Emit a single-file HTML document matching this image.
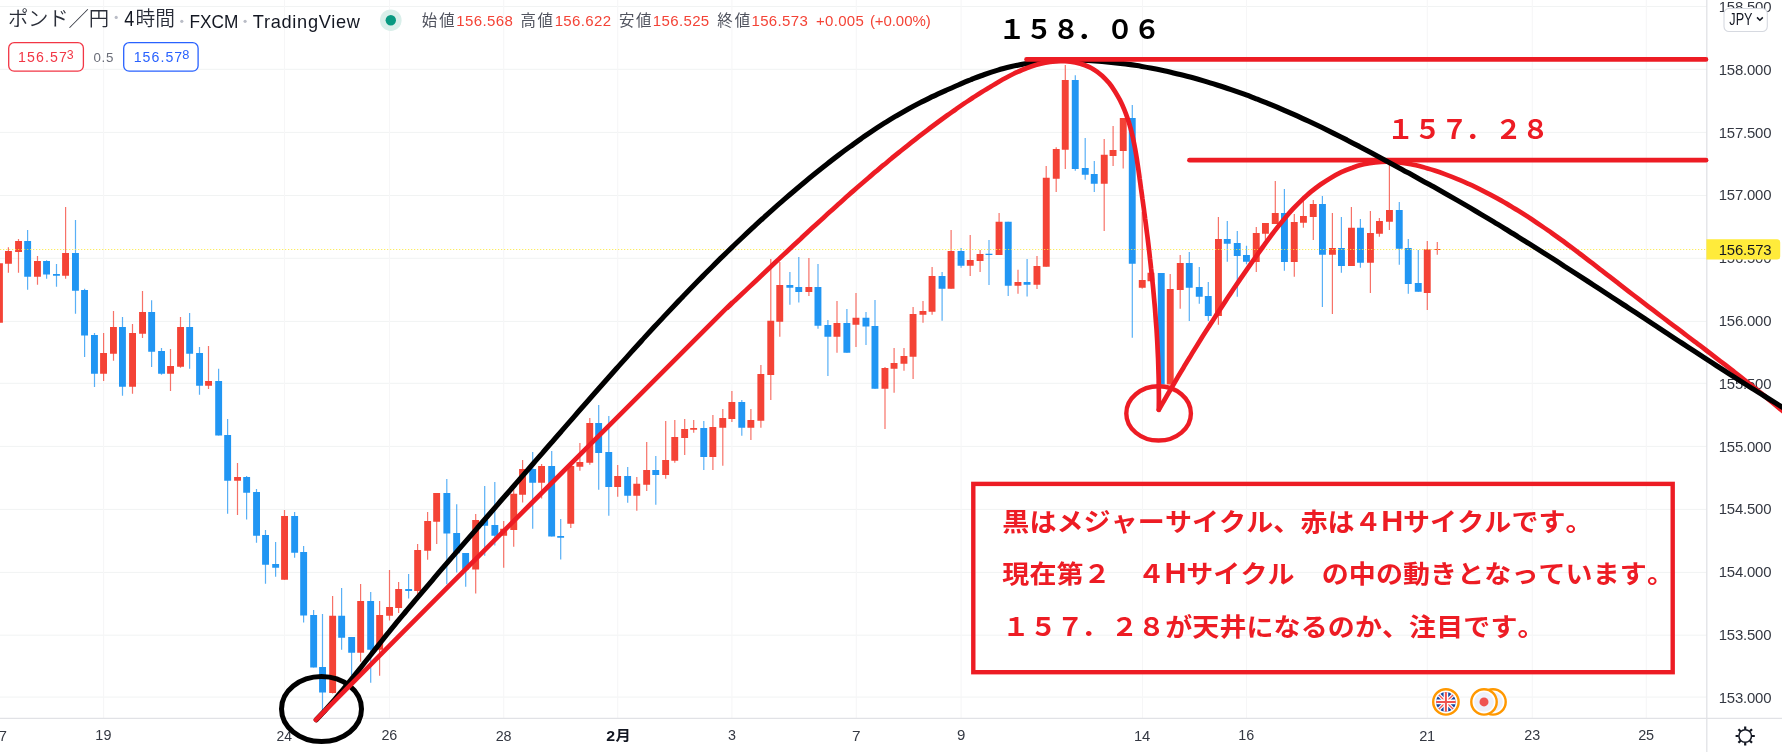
<!DOCTYPE html>
<html lang="ja"><head><meta charset="utf-8"><title>GBPJPY 4H</title>
<style>
html,body{margin:0;padding:0;background:#fff;}
body{width:1782px;height:752px;position:relative;overflow:hidden;font-family:"Liberation Sans","Noto Sans CJK JP",sans-serif;}
svg{position:absolute;left:0;top:0;will-change:transform;}
svg text{white-space:pre;}
</style></head><body>
<svg width="1782" height="752" viewBox="0 0 1782 752">
<g id="chart">
<path d="M0 6.5H1706.8M0 69.3H1706.8M0 132.4H1706.8M0 195.5H1706.8M0 258.3H1706.8M0 321.4H1706.8M0 383.3H1706.8M0 446.4H1706.8M0 509.4H1706.8M0 572.4H1706.8M0 635.2H1706.8M0 697.1H1706.8" stroke="#f1f3f3" stroke-width="1.0" fill="none"/>
<path d="M103.6 0V718.4M284.5 0V718.4M389.5 0V718.4M503.7 0V718.4M617.7 0V718.4M731.9 0V718.4M856.3 0V718.4M961.1 0V718.4M1142.5 0V718.4M1246.5 0V718.4M1427.3 0V718.4M1532.3 0V718.4M1646.3 0V718.4" stroke="#f6f6f7" stroke-width="1.1" fill="none"/>
<path d="M0 718.4H1782 M1706.8 0V752" stroke="#e1e2e6" stroke-width="1.3" fill="none"/>
<path d="M-0.5 263.2V322.7M8.4 247.2V272.8M18.5 239.1V272.8M37.5 256.1V284.7M65.6 207.1V278.7M103.6 333.0V381.0M113.5 311.1V360.8M132.5 324.0V393.8M142.5 291.0V337.9M170.5 349.0V390.9M180.5 317.0V367.8M208.5 346.0V388.9M237.5 463.0V514.9M284.5 510.0V579.7M332.6 596.1V693.5M360.6 584.0V661.8M379.6 601.1V675.7M389.5 570.1V620.5M398.6 582.1V612.9M417.6 544.0V595.0M427.6 512.0V559.8M436.7 493.0V544.0M475.7 514.0V593.6M503.7 521.0V567.8M513.7 489.2V546.7M522.6 460.1V502.6M541.6 464.0V498.6M570.8 466.0V527.9M579.9 442.9V470.7M589.8 418.0V464.8M617.7 465.0V496.8M636.8 476.9V510.8M646.7 442.1V490.9M665.7 421.0V478.8M674.8 420.0V462.8M684.7 419.0V454.9M693.7 420.0V432.8M712.9 415.0V469.9M722.8 409.1V465.8M731.9 391.0V421.9M750.9 409.0V439.9M760.9 365.0V427.7M770.8 258.9V400.0M779.8 262.0V336.8M808.9 258.0V295.9M837.0 301.0V352.8M856.0 292.9V346.9M885.0 367.0V428.9M894.1 348.1V392.7M904.0 348.1V370.8M913.1 306.9V378.9M923.0 301.0V322.8M932.1 267.0V314.8M951.1 229.9V288.7M970.2 235.0V275.9M980.1 250.0V272.0M999.1 212.9V255.0M1018.0 269.8V293.8M1037.0 255.9V288.9M1046.2 166.0V266.8M1056.2 147.2V191.9M1065.3 65.0V168.9M1104.2 139.1V230.9M1113.1 126.0V165.9M1123.2 118.1V168.6M1142.2 212.1V288.8M1151.0 272.8V281.2M1170.2 274.0V384.6M1180.2 255.0V308.8M1218.4 217.0V324.8M1256.3 227.0V272.0M1265.4 223.0V240.0M1275.3 181.0V224.0M1294.3 213.9V276.8M1303.4 196.0V227.8M1313.3 200.1V240.0M1332.4 213.0V314.0M1351.4 207.0V265.9M1370.4 211.0V292.9M1379.4 218.1V236.8M1389.4 162.5V229.9M1427.3 241.0V309.9M1437.3 242.0V254.7" stroke="#F44336" stroke-width="1.2" stroke-opacity="0.75" fill="none"/>
<path d="M27.6 230.0V289.8M46.6 260.2V278.7M56.5 264.0V286.8M75.5 219.9V313.7M84.6 288.7V356.9M94.5 333.0V386.9M122.5 317.0V395.8M151.6 300.2V367.0M161.5 348.1V374.7M189.6 313.1V368.7M199.5 347.0V394.8M218.6 368.8V435.6M227.6 419.1V513.7M246.6 476.0V519.6M256.5 489.1V542.8M265.5 530.0V583.8M275.6 542.0V576.7M294.6 512.0V557.8M303.6 546.0V622.5M313.6 610.0V667.6M322.5 614.1V710.2M341.6 588.0V649.8M351.6 637.0V675.0M370.7 592.0V682.8M408.6 574.0V598.6M446.8 479.0V584.3M456.7 504.2V572.5M465.7 553.0V586.8M484.7 485.9V555.7M494.8 482.0V545.6M532.7 451.9V528.7M551.7 451.0V536.6M560.7 519.0V559.5M598.7 405.0V489.7M608.8 416.0V515.8M627.7 467.0V502.7M655.8 456.1V504.7M703.8 421.0V469.9M741.8 400.0V435.8M789.9 272.0V304.8M798.8 257.0V302.6M818.0 263.9V328.7M827.9 320.0V375.9M846.9 309.0V352.8M866.0 311.9V344.9M875.0 300.1V388.7M942.1 272.0V320.8M961.1 247.9V267.8M989.0 240.0V285.0M1008.2 221.8V295.9M1027.1 258.9V296.5M1075.3 75.2V170.8M1085.2 138.0V179.8M1094.3 161.0V191.9M1132.3 105.0V337.8M1161.2 273.0V384.6M1189.3 252.0V320.9M1199.3 267.0V303.8M1208.3 282.0V320.9M1227.3 221.0V261.8M1237.3 230.9V296.7M1246.5 245.8V264.2M1284.4 189.0V270.8M1322.4 195.9V306.9M1341.4 216.9V272.7M1360.4 218.9V267.8M1399.3 202.1V264.8M1408.3 239.0V293.7M1418.3 250.0V291.8" stroke="#2196F3" stroke-width="1.2" stroke-opacity="0.75" fill="none"/>
<path d="M-4.0 263.2h6.9V322.7h-6.9zM5.0 251.1h6.9V263.7h-6.9zM15.1 241.0h6.9V251.9h-6.9zM34.0 261.0h6.9V276.8h-6.9zM62.1 253.1h6.9V275.8h-6.9zM100.1 353.0h6.9V373.7h-6.9zM110.0 327.1h6.9V353.7h-6.9zM129.1 333.1h6.9V386.7h-6.9zM139.1 311.9h6.9V333.8h-6.9zM167.1 366.0h6.9V373.7h-6.9zM177.1 327.1h6.9V366.8h-6.9zM205.1 381.0h6.9V385.7h-6.9zM234.1 477.0h6.9V480.8h-6.9zM281.1 515.9h6.9V579.7h-6.9zM329.2 615.8h6.9V692.9h-6.9zM357.2 601.0h6.9V652.8h-6.9zM376.2 615.0h6.9V649.8h-6.9zM386.1 607.0h6.9V615.8h-6.9zM395.2 589.0h6.9V607.9h-6.9zM414.2 550.1h6.9V591.0h-6.9zM424.2 521.0h6.9V550.8h-6.9zM433.2 493.0h6.9V521.8h-6.9zM472.2 520.0h6.9V569.6h-6.9zM500.2 528.7h6.9V535.8h-6.9zM510.3 493.8h6.9V529.9h-6.9zM519.1 469.0h6.9V494.8h-6.9zM538.1 466.0h6.9V482.8h-6.9zM567.3 466.0h6.9V523.7h-6.9zM576.4 462.0h6.9V466.8h-6.9zM586.3 423.1h6.9V462.8h-6.9zM614.2 475.9h6.9V486.9h-6.9zM633.3 483.8h6.9V495.8h-6.9zM643.2 470.0h6.9V484.8h-6.9zM662.2 459.9h6.9V474.9h-6.9zM671.3 437.0h6.9V460.8h-6.9zM681.2 429.0h6.9V437.9h-6.9zM690.2 428.1h6.9V429.8h-6.9zM709.4 426.9h6.9V456.9h-6.9zM719.3 418.0h6.9V427.8h-6.9zM728.4 402.0h6.9V418.9h-6.9zM747.4 420.0h6.9V427.8h-6.9zM757.4 373.9h6.9V420.8h-6.9zM767.3 320.8h6.9V374.9h-6.9zM776.3 285.0h6.9V321.7h-6.9zM805.4 287.0h6.9V291.9h-6.9zM833.5 322.9h6.9V336.8h-6.9zM852.5 317.8h6.9V324.8h-6.9zM881.5 368.0h6.9V388.7h-6.9zM890.6 362.9h6.9V368.8h-6.9zM900.5 355.9h6.9V363.8h-6.9zM909.6 313.9h6.9V356.7h-6.9zM919.5 310.9h6.9V314.8h-6.9zM928.6 276.0h6.9V311.7h-6.9zM947.6 251.0h6.9V288.7h-6.9zM966.8 259.9h6.9V265.8h-6.9zM976.6 254.0h6.9V260.9h-6.9zM995.6 221.8h6.9V255.0h-6.9zM1014.5 281.9h6.9V285.8h-6.9zM1033.5 266.0h6.9V284.8h-6.9zM1042.8 177.8h6.9V266.8h-6.9zM1052.8 148.9h6.9V178.8h-6.9zM1061.8 79.9h6.9V149.7h-6.9zM1100.8 154.8h6.9V183.8h-6.9zM1109.6 150.1h6.9V156.0h-6.9zM1119.8 118.1h6.9V150.9h-6.9zM1138.8 279.9h6.9V287.8h-6.9zM1147.5 272.8h6.9V281.2h-6.9zM1166.8 289.0h6.9V384.6h-6.9zM1176.8 263.0h6.9V290.0h-6.9zM1215.0 239.0h6.9V315.9h-6.9zM1252.8 233.0h6.9V261.9h-6.9zM1262.0 223.0h6.9V233.8h-6.9zM1271.8 213.0h6.9V224.0h-6.9zM1290.8 222.0h6.9V261.9h-6.9zM1300.0 215.9h6.9V222.8h-6.9zM1309.8 204.1h6.9V216.9h-6.9zM1329.0 248.0h6.9V254.8h-6.9zM1348.0 227.8h6.9V265.9h-6.9zM1367.0 233.0h6.9V262.8h-6.9zM1376.0 220.9h6.9V233.7h-6.9zM1386.0 210.0h6.9V221.8h-6.9zM1423.8 249.3h6.9V292.9h-6.9zM1433.8 248.9h6.9V250.1h-6.9z" fill="#F44336"/>
<path d="M24.2 241.0h6.9V276.8h-6.9zM43.1 261.0h6.9V274.6h-6.9zM53.0 274.0h6.9V275.8h-6.9zM72.0 253.1h6.9V290.8h-6.9zM81.1 290.0h6.9V335.5h-6.9zM91.0 335.0h6.9V373.7h-6.9zM119.0 327.1h6.9V386.7h-6.9zM148.2 311.9h6.9V351.8h-6.9zM158.1 351.0h6.9V373.7h-6.9zM186.2 327.1h6.9V353.7h-6.9zM196.1 353.0h6.9V385.7h-6.9zM215.2 381.0h6.9V435.6h-6.9zM224.2 435.1h6.9V480.8h-6.9zM243.2 477.0h6.9V492.7h-6.9zM253.1 492.0h6.9V535.8h-6.9zM262.1 535.1h6.9V564.7h-6.9zM272.2 563.9h6.9V567.8h-6.9zM291.2 515.9h6.9V552.8h-6.9zM300.2 551.9h6.9V615.6h-6.9zM310.2 615.0h6.9V667.6h-6.9zM319.1 667.0h6.9V692.6h-6.9zM338.2 615.8h6.9V637.8h-6.9zM348.2 637.0h6.9V652.8h-6.9zM367.2 601.0h6.9V649.8h-6.9zM405.2 589.0h6.9V591.0h-6.9zM443.4 493.0h6.9V533.6h-6.9zM453.2 532.9h6.9V553.2h-6.9zM462.2 553.0h6.9V569.5h-6.9zM481.2 520.0h6.9V525.7h-6.9zM491.4 525.0h6.9V535.8h-6.9zM529.2 469.0h6.9V482.8h-6.9zM548.2 466.0h6.9V536.6h-6.9zM557.2 536.0h6.9V537.8h-6.9zM595.2 423.1h6.9V452.9h-6.9zM605.3 452.0h6.9V486.9h-6.9zM624.2 475.9h6.9V495.8h-6.9zM652.3 470.0h6.9V474.9h-6.9zM700.3 428.1h6.9V456.9h-6.9zM738.3 402.0h6.9V427.8h-6.9zM786.4 285.0h6.9V287.8h-6.9zM795.3 287.0h6.9V291.9h-6.9zM814.5 287.0h6.9V325.8h-6.9zM824.4 324.9h6.9V336.8h-6.9zM843.4 322.9h6.9V352.8h-6.9zM862.5 317.8h6.9V326.6h-6.9zM871.5 325.9h6.9V388.7h-6.9zM938.6 276.0h6.9V288.7h-6.9zM957.6 251.0h6.9V265.8h-6.9zM985.5 253.8h6.9V255.0h-6.9zM1004.8 221.8h6.9V285.8h-6.9zM1023.6 282.0h6.9V284.8h-6.9zM1071.8 79.9h6.9V168.9h-6.9zM1081.8 167.9h6.9V174.8h-6.9zM1090.8 174.0h6.9V183.8h-6.9zM1128.8 118.1h6.9V263.8h-6.9zM1157.8 273.0h6.9V384.6h-6.9zM1185.8 263.0h6.9V287.8h-6.9zM1195.8 287.0h6.9V296.7h-6.9zM1204.8 295.9h6.9V315.9h-6.9zM1223.8 239.0h6.9V243.7h-6.9zM1233.8 242.9h6.9V255.9h-6.9zM1243.0 255.0h6.9V261.8h-6.9zM1281.0 213.0h6.9V261.9h-6.9zM1319.0 204.1h6.9V254.8h-6.9zM1338.0 248.0h6.9V265.9h-6.9zM1357.0 227.8h6.9V262.8h-6.9zM1395.8 210.0h6.9V248.8h-6.9zM1404.8 248.0h6.9V283.9h-6.9zM1414.8 283.0h6.9V291.8h-6.9z" fill="#2196F3"/>
<path d="M0 249.5H1706.8" stroke="#FDE838" stroke-opacity="0.8" stroke-width="1.15" stroke-dasharray="1.25 1.75" fill="none"/>
<g>
<circle cx="1445.9" cy="701.9" r="12.7" fill="#fff" stroke="#FF9800" stroke-width="2.4"/>
<clipPath id="ukc"><circle cx="1445.9" cy="701.9" r="9.9"/></clipPath>
<g clip-path="url(#ukc)">
<rect x="1435" y="691" width="22" height="22" fill="#1546A0"/>
<path d="M1435 691L1457 713M1457 691L1435 713" stroke="#fff" stroke-width="3.6"/>
<path d="M1435 691L1457 713M1457 691L1435 713" stroke="#EF5350" stroke-width="1.3"/>
<path d="M1445.9 690V714M1434 701.9H1458" stroke="#fff" stroke-width="4.6"/>
<path d="M1445.9 690V714M1434 701.9H1458" stroke="#EF5350" stroke-width="2.0"/>
</g>
<circle cx="1493.0" cy="701.9" r="12.7" fill="#fff" stroke="#FF9800" stroke-width="2.4"/>
<circle cx="1493.0" cy="701.9" r="9.9" fill="#EEF1F9"/>
<circle cx="1484" cy="701.9" r="12.7" fill="#fff" stroke="#FF9800" stroke-width="2.4"/>
<circle cx="1484" cy="701.9" r="9.9" fill="#EEF1F9"/>
<circle cx="1484" cy="701.9" r="4.5" fill="#EF5350"/>
</g>
<circle cx="1745.2" cy="736.0" r="6.3" stroke="#131722" stroke-width="1.5" fill="none"/>
<path d="M1751.80 736.00L1754.80 736.00M1749.87 740.67L1751.99 742.79M1745.20 742.60L1745.20 745.60M1740.53 740.67L1738.41 742.79M1738.60 736.00L1735.60 736.00M1740.53 731.33L1738.41 729.21M1745.20 729.40L1745.20 726.40M1749.87 731.33L1751.99 729.21" stroke="#131722" stroke-width="2.2" fill="none"/>
</g>
<g id="ui">
<text x="7.93" y="25.61" font-size="20.40" font-weight="350" font-family='"Liberation Sans","Noto Sans CJK JP",sans-serif' letter-spacing="-0.208" fill="#2a2e39">ポンド／円</text>
<text transform="translate(124.60 26.40) scale(0.8343 1)" x="-0.34" y="0" font-size="21.62" font-weight="400" font-family='"Liberation Sans","Noto Sans CJK JP",sans-serif' fill="#131722">4</text>
<text transform="translate(136.70 26.15) scale(0.9675 1)" x="-1.27" y="0" font-size="20.40" font-weight="350" font-family='"Liberation Sans","Noto Sans CJK JP",sans-serif' fill="#2a2e39">時間</text>
<text transform="translate(190.80 27.60) scale(0.9486 1)" x="-1.42" y="0" font-size="18.20" font-weight="400" font-family='"Liberation Sans","Noto Sans CJK JP",sans-serif' fill="#131722">FXCM</text>
<text x="252.82" y="27.60" font-size="18.20" font-weight="400" font-family='"Liberation Sans","Noto Sans CJK JP",sans-serif' letter-spacing="0.701" fill="#131722">TradingView</text>
<circle cx="116.2" cy="17.4" r="1.6" fill="#b9bcc6"/>
<circle cx="181.8" cy="21.3" r="1.6" fill="#b9bcc6"/>
<circle cx="245.1" cy="21.3" r="1.6" fill="#b9bcc6"/>
<circle cx="390.8" cy="20.2" r="10.8" fill="#d9efea"/><circle cx="390.8" cy="20.2" r="5.2" fill="#089981"/>
<text x="421.77" y="25.91" font-size="15.40" font-weight="400" font-family='"Liberation Sans","Noto Sans CJK JP",sans-serif' letter-spacing="2.213" fill="#50535e">始値</text>
<text x="520.40" y="25.94" font-size="15.40" font-weight="400" font-family='"Liberation Sans","Noto Sans CJK JP",sans-serif' letter-spacing="1.788" fill="#50535e">高値</text>
<text x="618.92" y="25.91" font-size="15.40" font-weight="400" font-family='"Liberation Sans","Noto Sans CJK JP",sans-serif' letter-spacing="1.763" fill="#50535e">安値</text>
<text x="717.33" y="25.91" font-size="15.40" font-weight="400" font-family='"Liberation Sans","Noto Sans CJK JP",sans-serif' letter-spacing="1.963" fill="#50535e">終値</text>
<text x="456.18" y="25.50" font-size="15.00" font-weight="400" font-family='"Liberation Sans","Noto Sans CJK JP",sans-serif' letter-spacing="0.416" fill="#F44336">156.568</text>
<text x="554.67" y="25.50" font-size="15.00" font-weight="400" font-family='"Liberation Sans","Noto Sans CJK JP",sans-serif' letter-spacing="0.354" fill="#F44336">156.622</text>
<text x="652.77" y="25.50" font-size="15.00" font-weight="400" font-family='"Liberation Sans","Noto Sans CJK JP",sans-serif' letter-spacing="0.366" fill="#F44336">156.525</text>
<text x="751.48" y="25.50" font-size="15.00" font-weight="400" font-family='"Liberation Sans","Noto Sans CJK JP",sans-serif' letter-spacing="0.343" fill="#F44336">156.573</text>
<text x="816.01" y="25.50" font-size="15.00" font-weight="400" font-family='"Liberation Sans","Noto Sans CJK JP",sans-serif' letter-spacing="0.297" fill="#F44336">+0.005</text>
<text x="869.92" y="25.50" font-size="15.00" font-weight="400" font-family='"Liberation Sans","Noto Sans CJK JP",sans-serif' letter-spacing="-0.077" fill="#F44336">(+0.00%)</text>
<rect x="8.7" y="42.7" width="74.7" height="28.5" rx="5.5" fill="#fff" stroke="#F23645" stroke-width="1.3"/>
<rect x="123.7" y="42.7" width="74.4" height="28.5" rx="5.5" fill="#fff" stroke="#2962FF" stroke-width="1.3"/>
<text x="18.04" y="61.56" font-size="14.15" font-weight="400" font-family='"Liberation Sans","Noto Sans CJK JP",sans-serif' letter-spacing="1.112" fill="#F23645">156.57</text>
<text x="66.66" y="59.38" font-size="12.37" font-weight="400" font-family='"Liberation Sans","Noto Sans CJK JP",sans-serif' letter-spacing="0.000" fill="#F23645">3</text>
<text x="93.60" y="61.58" font-size="13.30" font-weight="400" font-family='"Liberation Sans","Noto Sans CJK JP",sans-serif' letter-spacing="0.617" fill="#6a6d78">0.5</text>
<text x="133.64" y="61.56" font-size="14.15" font-weight="400" font-family='"Liberation Sans","Noto Sans CJK JP",sans-serif' letter-spacing="1.072" fill="#2962FF">156.57</text>
<text transform="translate(182.70 59.38) scale(1.0383 1)" x="-0.50" y="0" font-size="12.37" font-weight="400" font-family='"Liberation Sans","Noto Sans CJK JP",sans-serif' fill="#2962FF">8</text>
<text x="1718.67" y="11.99" font-size="14.92" font-weight="400" font-family='"Liberation Sans","Noto Sans CJK JP",sans-serif' letter-spacing="-0.175" fill="#343842">158.500</text>
<text x="1718.67" y="74.79" font-size="14.92" font-weight="400" font-family='"Liberation Sans","Noto Sans CJK JP",sans-serif' letter-spacing="-0.175" fill="#343842">158.000</text>
<text x="1718.67" y="137.59" font-size="14.92" font-weight="400" font-family='"Liberation Sans","Noto Sans CJK JP",sans-serif' letter-spacing="-0.175" fill="#343842">157.500</text>
<text x="1718.67" y="200.39" font-size="14.92" font-weight="400" font-family='"Liberation Sans","Noto Sans CJK JP",sans-serif' letter-spacing="-0.175" fill="#343842">157.000</text>
<text x="1718.67" y="263.19" font-size="14.92" font-weight="400" font-family='"Liberation Sans","Noto Sans CJK JP",sans-serif' letter-spacing="-0.175" fill="#343842">156.500</text>
<text x="1718.67" y="325.99" font-size="14.92" font-weight="400" font-family='"Liberation Sans","Noto Sans CJK JP",sans-serif' letter-spacing="-0.175" fill="#343842">156.000</text>
<text x="1718.67" y="388.79" font-size="14.92" font-weight="400" font-family='"Liberation Sans","Noto Sans CJK JP",sans-serif' letter-spacing="-0.175" fill="#343842">155.500</text>
<text x="1718.67" y="451.59" font-size="14.92" font-weight="400" font-family='"Liberation Sans","Noto Sans CJK JP",sans-serif' letter-spacing="-0.175" fill="#343842">155.000</text>
<text x="1718.67" y="514.39" font-size="14.92" font-weight="400" font-family='"Liberation Sans","Noto Sans CJK JP",sans-serif' letter-spacing="-0.175" fill="#343842">154.500</text>
<text x="1718.67" y="577.19" font-size="14.92" font-weight="400" font-family='"Liberation Sans","Noto Sans CJK JP",sans-serif' letter-spacing="-0.175" fill="#343842">154.000</text>
<text x="1718.67" y="639.99" font-size="14.92" font-weight="400" font-family='"Liberation Sans","Noto Sans CJK JP",sans-serif' letter-spacing="-0.175" fill="#343842">153.500</text>
<text x="1718.67" y="702.79" font-size="14.92" font-weight="400" font-family='"Liberation Sans","Noto Sans CJK JP",sans-serif' letter-spacing="-0.175" fill="#343842">153.000</text>
<path d="M1706.4 239.3H1777.2a3 3 0 0 1 3 3V256.4a3 3 0 0 1 -3 3H1706.4z" fill="#FFEB3B"/>
<text x="1718.67" y="255.09" font-size="14.92" font-weight="400" font-family='"Liberation Sans","Noto Sans CJK JP",sans-serif' letter-spacing="-0.164" fill="#131722">156.573</text>
<rect x="1724" y="8.5" width="43.3" height="23" rx="5" fill="#fff" stroke="#d6d9e0" stroke-width="1.1"/>
<text transform="translate(1729.50 24.91) scale(0.8042 1)" x="-0.19" y="0" font-size="15.73" font-weight="400" font-family='"Liberation Sans","Noto Sans CJK JP",sans-serif' fill="#131722">JPY</text>
<path d="M1757 17.4L1759.9 20.2L1762.8 17.4" stroke="#131722" stroke-width="1.5" fill="none"/>
<text x="-9.46" y="740.59" font-size="14.70" font-weight="400" font-family='"Liberation Sans","Noto Sans CJK JP",sans-serif' letter-spacing="-0.049" fill="#343842">17</text>
<text x="95.29" y="740.47" font-size="14.34" font-weight="400" font-family='"Liberation Sans","Noto Sans CJK JP",sans-serif' letter-spacing="0.274" fill="#343842">19</text>
<text transform="translate(277.25 740.59) scale(0.9548 1)" x="-0.69" y="0" font-size="14.61" font-weight="400" font-family='"Liberation Sans","Noto Sans CJK JP",sans-serif' fill="#343842">24</text>
<text x="381.56" y="740.47" font-size="14.34" font-weight="400" font-family='"Liberation Sans","Noto Sans CJK JP",sans-serif' letter-spacing="-0.163" fill="#343842">26</text>
<text x="495.76" y="740.50" font-size="14.34" font-weight="400" font-family='"Liberation Sans","Noto Sans CJK JP",sans-serif' letter-spacing="-0.163" fill="#343842">28</text>
<text transform="translate(606.90 740.62) scale(1.0903 1)" x="-0.50" y="0" font-size="14.61" font-weight="700" font-family='"Liberation Sans","Noto Sans CJK JP",sans-serif' fill="#131722">2</text>
<text transform="translate(615.80 740.46) scale(1.1016 1)" x="-0.25" y="0" font-size="13.88" font-weight="700" font-family='"Liberation Sans","Noto Sans CJK JP",sans-serif' fill="#131722">月</text>
<text x="727.90" y="740.47" font-size="14.34" font-weight="400" font-family='"Liberation Sans","Noto Sans CJK JP",sans-serif' letter-spacing="0.000" fill="#343842">3</text>
<text transform="translate(852.80 740.59) scale(1.0467 1)" x="-0.75" y="0" font-size="14.70" font-weight="400" font-family='"Liberation Sans","Noto Sans CJK JP",sans-serif' fill="#343842">7</text>
<text transform="translate(957.60 740.47) scale(1.0467 1)" x="-0.62" y="0" font-size="14.34" font-weight="400" font-family='"Liberation Sans","Noto Sans CJK JP",sans-serif' fill="#343842">9</text>
<text x="1134.12" y="740.59" font-size="14.79" font-weight="400" font-family='"Liberation Sans","Noto Sans CJK JP",sans-serif' letter-spacing="-0.412" fill="#343842">14</text>
<text x="1238.19" y="740.47" font-size="14.34" font-weight="400" font-family='"Liberation Sans","Noto Sans CJK JP",sans-serif' letter-spacing="0.212" fill="#343842">16</text>
<text x="1419.36" y="740.62" font-size="14.61" font-weight="400" font-family='"Liberation Sans","Noto Sans CJK JP",sans-serif' letter-spacing="-0.373" fill="#343842">21</text>
<text x="1524.36" y="740.47" font-size="14.34" font-weight="400" font-family='"Liberation Sans","Noto Sans CJK JP",sans-serif' letter-spacing="-0.163" fill="#343842">23</text>
<text x="1638.36" y="740.47" font-size="14.43" font-weight="400" font-family='"Liberation Sans","Noto Sans CJK JP",sans-serif' letter-spacing="-0.275" fill="#343842">25</text>
</g>
<g id="annotations">
<path d="M1158.8 409.8C1159.8 408.0 1162.8 402.7 1164.9 399.2C1166.9 395.7 1168.9 392.2 1171.0 388.7C1173.0 385.2 1175.1 381.7 1177.1 378.2C1179.2 374.8 1181.2 371.3 1183.3 367.9C1185.4 364.4 1187.5 361.0 1189.6 357.6C1191.6 354.1 1193.7 350.7 1195.9 347.3C1198.0 343.9 1200.1 340.5 1202.2 337.1C1204.3 333.7 1206.5 330.4 1208.6 327.0C1210.8 323.6 1213.0 320.3 1215.1 316.9C1217.3 313.5 1219.5 310.2 1221.7 306.9C1223.9 303.5 1226.1 300.2 1228.3 296.8C1230.5 293.5 1232.8 290.2 1235.0 286.8C1237.3 283.5 1239.6 280.2 1241.8 276.9C1244.1 273.6 1246.4 270.2 1248.7 266.9C1251.0 263.6 1253.4 260.3 1255.7 257.0C1258.0 253.7 1260.4 250.3 1262.8 247.0C1265.2 243.7 1267.5 240.4 1270.0 237.1C1272.4 233.9 1274.9 230.6 1277.4 227.4C1279.9 224.2 1282.5 221.0 1285.1 217.9C1287.7 214.8 1290.4 211.7 1293.2 208.7C1295.9 205.8 1298.8 202.9 1301.7 200.1C1304.7 197.3 1307.7 194.5 1310.8 191.9C1313.9 189.4 1317.2 186.9 1320.5 184.5C1323.8 182.2 1327.2 180.0 1330.7 177.9C1334.1 175.9 1337.7 174.0 1341.3 172.2C1344.9 170.5 1348.6 169.0 1352.4 167.7C1356.1 166.3 1359.9 165.2 1363.7 164.3C1367.5 163.4 1371.4 162.7 1375.3 162.3C1379.2 161.9 1383.1 161.7 1387.1 161.7C1391.0 161.7 1395.0 162.0 1398.9 162.4C1402.9 162.8 1406.9 163.5 1410.9 164.3C1414.8 165.0 1418.8 166.0 1422.7 167.0C1426.7 168.1 1430.6 169.3 1434.5 170.5C1438.4 171.8 1442.3 173.2 1446.1 174.6C1449.9 176.0 1453.7 177.5 1457.5 179.1C1461.2 180.6 1465.0 182.3 1468.6 183.9C1472.3 185.6 1476.0 187.3 1479.6 189.1C1483.2 190.9 1486.8 192.7 1490.3 194.6C1493.9 196.5 1497.4 198.4 1500.9 200.4C1504.4 202.4 1507.9 204.4 1511.3 206.5C1514.8 208.6 1518.2 210.7 1521.6 212.8C1525.0 214.9 1528.4 217.1 1531.7 219.3C1535.1 221.6 1538.4 223.8 1541.8 226.1C1545.1 228.3 1548.4 230.7 1551.7 233.0C1555.0 235.3 1558.2 237.7 1561.5 240.0C1564.8 242.4 1568.0 244.8 1571.2 247.2C1574.5 249.6 1577.7 252.1 1580.9 254.5C1584.1 256.9 1587.3 259.4 1590.5 261.9C1593.7 264.3 1596.9 266.8 1600.1 269.3C1603.3 271.7 1606.5 274.2 1609.7 276.7C1612.9 279.2 1616.1 281.7 1619.3 284.1C1622.5 286.6 1625.7 289.1 1628.9 291.6C1632.1 294.0 1635.3 296.5 1638.5 298.9C1641.7 301.4 1644.9 303.8 1648.1 306.3C1651.3 308.7 1654.5 311.2 1657.7 313.6C1660.9 316.0 1664.1 318.5 1667.3 320.9C1670.5 323.3 1673.8 325.7 1677.0 328.2C1680.2 330.6 1683.4 333.0 1686.6 335.5C1689.8 337.9 1693.0 340.3 1696.2 342.7C1699.4 345.2 1702.6 347.6 1705.8 350.0C1709.0 352.5 1712.2 354.9 1715.4 357.4C1718.6 359.8 1721.8 362.3 1725.0 364.7C1728.2 367.2 1731.4 369.7 1734.5 372.2C1737.7 374.6 1740.9 377.1 1744.0 379.6C1747.2 382.1 1750.4 384.6 1753.5 387.1C1756.6 389.7 1759.8 392.2 1762.9 394.7C1766.0 397.3 1769.2 399.8 1772.3 402.4C1775.4 405.0 1778.5 407.6 1781.6 410.2C1784.7 412.8 1787.8 415.4 1790.8 418.0C1793.9 420.7 1798.5 424.7 1800.0 426.0" stroke="#ED1C24" stroke-width="4.7" fill="none" stroke-linecap="round" stroke-linejoin="round"/>
<path d="M1189.5 160.2H1706" stroke="#ED1C24" stroke-width="4.8" stroke-linecap="round" fill="none"/>
<path d="M316.3 719.7C317.8 718.1 322.4 713.2 325.5 709.9C328.5 706.5 331.5 703.1 334.6 699.6C337.6 696.1 340.6 692.5 343.6 688.9C346.5 685.3 349.5 681.6 352.5 677.9C355.5 674.2 358.4 670.5 361.4 666.8C364.3 663.0 367.3 659.2 370.3 655.5C373.2 651.8 376.2 648.0 379.1 644.3C382.1 640.6 385.0 636.8 388.0 633.2C390.9 629.5 393.9 625.9 396.9 622.2C399.8 618.6 402.8 615.1 405.8 611.5C408.8 607.9 411.8 604.4 414.7 600.8C417.7 597.3 420.7 593.8 423.7 590.3C426.7 586.8 429.7 583.3 432.7 579.8C435.7 576.2 438.7 572.7 441.7 569.2C444.8 565.7 447.8 562.2 450.8 558.7C453.8 555.2 456.9 551.7 459.9 548.2C462.9 544.7 466.0 541.1 469.0 537.6C472.1 534.1 475.1 530.6 478.2 527.0C481.2 523.5 484.3 520.0 487.3 516.5C490.4 512.9 493.5 509.4 496.5 505.9C499.6 502.3 502.6 498.8 505.7 495.3C508.8 491.7 511.8 488.2 514.9 484.7C518.0 481.1 521.0 477.6 524.1 474.1C527.2 470.5 530.3 467.0 533.3 463.5C536.4 459.9 539.5 456.4 542.6 452.9C545.6 449.3 548.7 445.8 551.8 442.3C554.8 438.7 557.9 435.2 561.0 431.7C564.1 428.1 567.1 424.6 570.2 421.1C573.3 417.6 576.3 414.0 579.4 410.5C582.5 407.0 585.6 403.5 588.7 400.0C591.7 396.5 594.8 393.0 597.9 389.5C601.0 386.0 604.1 382.5 607.2 379.0C610.3 375.5 613.4 372.0 616.5 368.5C619.6 365.0 622.7 361.6 625.9 358.1C629.0 354.6 632.1 351.2 635.2 347.7C638.4 344.3 641.5 340.8 644.6 337.4C647.8 333.9 651.0 330.5 654.1 327.1C657.3 323.7 660.5 320.3 663.6 316.9C666.8 313.5 670.0 310.1 673.2 306.7C676.4 303.3 679.6 299.9 682.9 296.6C686.1 293.2 689.3 289.9 692.6 286.5C695.8 283.2 699.1 279.9 702.3 276.6C705.6 273.3 708.9 270.0 712.2 266.7C715.5 263.4 718.8 260.1 722.1 256.9C725.5 253.6 728.8 250.4 732.2 247.1C735.5 243.9 738.9 240.7 742.3 237.5C745.7 234.3 749.1 231.1 752.5 227.9C755.9 224.8 759.3 221.6 762.8 218.5C766.2 215.3 769.7 212.2 773.2 209.1C776.7 206.0 780.2 202.9 783.7 199.9C787.3 196.8 790.8 193.8 794.4 190.7C797.9 187.7 801.5 184.7 805.1 181.7C808.7 178.7 812.4 175.7 816.0 172.8C819.7 169.8 823.4 166.9 827.1 164.0C830.7 161.1 834.5 158.2 838.2 155.4C841.9 152.5 845.7 149.7 849.5 147.0C853.3 144.2 857.1 141.5 860.9 138.8C864.8 136.1 868.6 133.4 872.5 130.8C876.4 128.3 880.3 125.7 884.3 123.2C888.2 120.7 892.2 118.3 896.2 115.9C900.2 113.6 904.2 111.3 908.3 109.0C912.3 106.8 916.4 104.6 920.5 102.5C924.6 100.4 928.8 98.4 932.9 96.4C937.1 94.4 941.3 92.5 945.5 90.6C949.8 88.7 954.0 86.8 958.3 85.0C962.6 83.1 967.0 81.3 971.3 79.5C975.7 77.8 980.1 76.0 984.5 74.5C988.9 72.9 993.4 71.4 997.9 70.1C1002.4 68.7 1006.9 67.6 1011.4 66.5C1016.0 65.5 1020.6 64.6 1025.2 63.8C1029.8 63.1 1034.4 62.4 1039.0 61.9C1043.6 61.4 1048.3 61.0 1053.0 60.7C1057.6 60.4 1062.3 60.3 1067.0 60.2C1071.6 60.1 1076.3 60.2 1081.0 60.3C1085.7 60.4 1090.4 60.6 1095.0 60.9C1099.7 61.2 1104.4 61.6 1109.0 62.1C1113.7 62.5 1118.3 63.0 1122.9 63.6C1127.6 64.2 1132.2 64.9 1136.8 65.6C1141.3 66.4 1145.9 67.1 1150.5 68.0C1155.0 68.9 1159.6 69.8 1164.1 70.7C1168.7 71.7 1173.2 72.8 1177.7 73.9C1182.2 74.9 1186.7 76.1 1191.2 77.3C1195.6 78.5 1200.1 79.8 1204.5 81.1C1209.0 82.4 1213.4 83.8 1217.8 85.2C1222.3 86.6 1226.7 88.1 1231.1 89.6C1235.5 91.1 1239.8 92.6 1244.2 94.2C1248.6 95.8 1252.9 97.5 1257.3 99.2C1261.6 100.9 1266.0 102.6 1270.3 104.4C1274.6 106.1 1278.9 107.9 1283.2 109.8C1287.5 111.6 1291.8 113.5 1296.0 115.4C1300.3 117.4 1304.6 119.3 1308.8 121.3C1313.1 123.3 1317.3 125.3 1321.5 127.3C1325.8 129.4 1330.0 131.5 1334.2 133.6C1338.4 135.7 1342.6 137.8 1346.8 139.9C1350.9 142.1 1355.1 144.3 1359.3 146.4C1363.4 148.6 1367.6 150.8 1371.7 153.0C1375.9 155.3 1380.0 157.5 1384.1 159.7C1388.3 162.0 1392.4 164.2 1396.5 166.4C1400.6 168.7 1404.7 170.9 1408.8 173.1C1412.9 175.4 1416.9 177.6 1421.0 179.9C1425.1 182.1 1429.2 184.4 1433.2 186.6C1437.3 188.9 1441.3 191.2 1445.3 193.5C1449.4 195.8 1453.4 198.1 1457.4 200.4C1461.4 202.7 1465.5 205.1 1469.5 207.4C1473.5 209.8 1477.5 212.2 1481.5 214.6C1485.5 216.9 1489.5 219.3 1493.4 221.7C1497.4 224.2 1501.4 226.6 1505.4 229.0C1509.3 231.4 1513.3 233.9 1517.3 236.3C1521.2 238.8 1525.2 241.3 1529.1 243.7C1533.1 246.2 1537.0 248.7 1540.9 251.2C1544.9 253.7 1548.8 256.2 1552.8 258.7C1556.7 261.2 1560.6 263.7 1564.5 266.3C1568.5 268.8 1572.4 271.3 1576.3 273.9C1580.2 276.4 1584.1 278.9 1588.1 281.5C1592.0 284.0 1595.9 286.6 1599.8 289.1C1603.7 291.7 1607.6 294.3 1611.5 296.8C1615.4 299.4 1619.3 301.9 1623.2 304.5C1627.1 307.1 1631.1 309.6 1635.0 312.2C1638.9 314.8 1642.8 317.4 1646.7 319.9C1650.6 322.5 1654.5 325.1 1658.4 327.6C1662.3 330.2 1666.2 332.8 1670.1 335.3C1674.0 337.9 1677.9 340.5 1681.8 343.0C1685.7 345.6 1689.6 348.1 1693.5 350.7C1697.5 353.3 1701.4 355.8 1705.3 358.3C1709.2 360.9 1713.1 363.4 1717.0 366.0C1721.0 368.5 1724.9 371.0 1728.8 373.6C1732.7 376.1 1736.7 378.6 1740.6 381.1C1744.6 383.6 1748.5 386.1 1752.4 388.6C1756.4 391.1 1760.3 393.6 1764.3 396.0C1768.2 398.5 1772.2 401.0 1776.2 403.4C1780.1 405.9 1784.1 408.3 1788.1 410.7C1792.0 413.2 1798.0 416.8 1800.0 418.0" stroke="#000" stroke-width="5.1" fill="none" stroke-linecap="round" stroke-linejoin="round"/>
<ellipse cx="321.5" cy="709.0" rx="40.0" ry="32.5" stroke="#000" stroke-width="5.0" fill="none"/>
<path d="M315.9 719.9C338.2 697.4 405.1 629.8 450.0 584.8C494.9 539.8 540.0 494.7 585.0 449.7C630.0 404.7 696.3 338.3 720.0 314.6C743.7 290.9 724.9 310.0 727.4 307.7C729.8 305.4 732.3 303.1 734.7 300.7C737.2 298.4 739.6 296.1 742.1 293.8C744.5 291.5 747.0 289.2 749.4 286.9C751.9 284.5 754.3 282.2 756.8 279.9C759.2 277.6 761.7 275.3 764.1 273.0C766.6 270.7 769.0 268.3 771.5 266.0C773.9 263.7 776.4 261.4 778.8 259.1C781.3 256.8 783.7 254.5 786.2 252.2C788.7 249.9 791.1 247.6 793.6 245.3C796.0 243.0 798.5 240.7 801.0 238.4C803.4 236.1 805.9 233.8 808.4 231.5C810.9 229.2 813.3 227.0 815.8 224.7C818.3 222.4 820.8 220.1 823.3 217.9C825.8 215.6 828.3 213.3 830.8 211.1C833.3 208.8 835.8 206.6 838.3 204.3C840.8 202.1 843.3 199.8 845.8 197.6C848.3 195.4 850.8 193.1 853.4 190.9C855.9 188.7 858.4 186.5 861.0 184.3C863.5 182.1 866.1 179.9 868.6 177.7C871.2 175.5 873.7 173.3 876.3 171.2C878.9 169.0 881.4 166.8 884.0 164.7C886.6 162.5 889.2 160.4 891.8 158.2C894.4 156.1 897.0 154.0 899.6 151.9C902.2 149.8 904.9 147.6 907.5 145.6C910.1 143.5 912.8 141.4 915.4 139.3C918.1 137.2 920.7 135.2 923.4 133.1C926.1 131.1 928.7 129.0 931.4 127.0C934.1 125.0 936.8 123.0 939.5 121.0C942.2 119.0 945.0 117.0 947.7 115.0C950.5 113.1 953.2 111.1 956.0 109.2C958.8 107.2 961.5 105.3 964.3 103.4C967.1 101.5 970.0 99.7 972.8 97.8C975.6 96.0 978.5 94.1 981.4 92.3C984.3 90.5 987.2 88.7 990.1 87.0C993.0 85.2 995.9 83.4 998.9 81.7C1001.9 80.0 1004.9 78.4 1007.9 76.8C1010.9 75.2 1013.9 73.6 1017.0 72.2C1020.1 70.8 1023.2 69.4 1026.3 68.2C1029.4 67.0 1032.5 65.9 1035.7 64.9C1038.9 64.0 1042.1 63.2 1045.3 62.6C1048.6 61.9 1051.8 61.5 1055.1 61.3C1058.4 61.0 1061.8 61.0 1065.1 61.2C1068.5 61.4 1071.9 61.8 1075.2 62.5C1078.6 63.2 1081.9 64.1 1085.0 65.3C1088.2 66.5 1091.3 67.9 1094.1 69.7C1097.0 71.4 1099.6 73.5 1102.1 75.7C1104.6 78.0 1106.9 80.5 1109.1 83.1C1111.2 85.7 1113.2 88.6 1115.0 91.4C1116.8 94.3 1118.5 97.3 1120.0 100.2C1121.5 103.2 1122.9 106.3 1124.2 109.4C1125.5 112.5 1126.6 115.6 1127.7 118.8C1128.8 121.9 1129.7 125.2 1130.6 128.4C1131.5 131.6 1132.3 134.9 1133.0 138.2C1133.7 141.5 1134.4 144.8 1135.0 148.1C1135.6 151.5 1136.2 154.8 1136.7 158.2C1137.2 161.5 1137.7 164.9 1138.2 168.2C1138.7 171.6 1139.2 175.0 1139.6 178.3C1140.1 181.7 1140.6 185.1 1141.0 188.4C1141.5 191.8 1142.0 195.1 1142.4 198.5C1142.9 201.8 1143.3 205.2 1143.8 208.5C1144.2 211.9 1144.7 215.2 1145.1 218.6C1145.6 221.9 1146.0 225.3 1146.4 228.6C1146.8 232.0 1147.3 235.3 1147.7 238.6C1148.1 242.0 1148.5 245.3 1148.9 248.7C1149.3 252.0 1149.7 255.3 1150.0 258.7C1150.4 262.0 1150.8 265.4 1151.1 268.7C1151.5 272.0 1151.8 275.4 1152.2 278.7C1152.5 282.1 1152.9 285.4 1153.2 288.7C1153.5 292.1 1153.8 295.4 1154.1 298.8C1154.4 302.1 1154.7 305.5 1155.0 308.8C1155.2 312.1 1155.5 315.5 1155.7 318.8C1156.0 322.2 1156.2 325.5 1156.5 328.9C1156.7 332.2 1156.9 335.6 1157.1 338.9C1157.3 342.3 1157.5 345.7 1157.6 349.0C1157.8 352.4 1157.9 355.7 1158.1 359.1C1158.2 362.5 1158.3 365.8 1158.4 369.2C1158.5 372.6 1158.6 375.9 1158.7 379.3C1158.7 382.7 1158.8 386.1 1158.8 389.5C1158.9 392.8 1158.9 396.2 1158.9 399.6C1158.9 403.0 1158.8 408.1 1158.8 409.8" stroke="#ED1C24" stroke-width="4.7" fill="none" stroke-linecap="round" stroke-linejoin="round"/>
<ellipse cx="1158.6" cy="413.4" rx="32.3" ry="27.1" stroke="#ED1C24" stroke-width="4.4" fill="none"/>
<path d="M1026.5 59.4H1706" stroke="#ED1C24" stroke-width="4.6" stroke-linecap="round" fill="none"/>
<rect x="973.3" y="483.9" width="699.4" height="188.3" stroke="#ED1C24" stroke-width="4.4" fill="none"/>
<text transform="scale(1 0.970)" x="1011.9 1038.9 1065.9 1090.3 1119.9 1146.9" y="39.73" text-anchor="middle" font-size="27.0" font-weight="700" font-family='"Liberation Sans","Noto Sans CJK JP",sans-serif' fill="#000">１５８．０６</text>
<text transform="scale(1 0.970)" x="1400.4 1427.4 1454.4 1478.8 1508.4 1535.4" y="143.03" text-anchor="middle" font-size="27.0" font-weight="700" font-family='"Liberation Sans","Noto Sans CJK JP",sans-serif' fill="#ED1C24">１５７．２８</text>
<text transform="scale(1 0.940)" x="1015.8 1042.9 1070.0 1097.1 1124.2 1151.3 1178.4 1205.5 1232.6 1259.7 1286.8 1313.9 1341.0 1368.1 1392.3 1416.5 1443.6 1470.7 1497.8 1524.9 1552.0 1579.1" y="564.63" text-anchor="middle" font-size="27.0" font-weight="700" font-family='"Liberation Sans","Noto Sans CJK JP",sans-serif' fill="#ED1C24">黒はメジャーサイクル、赤は４<tspan font-size="30.5">H</tspan>サイクルです。</text>
<text transform="scale(1 0.940)" x="1015.8 1042.9 1070.0 1097.1 1124.2 1151.3 1175.5 1199.7 1226.8 1253.9 1281.0 1308.1 1335.2 1362.3 1389.4 1416.5 1443.6 1470.7 1497.8 1524.9 1552.0 1579.1 1606.2 1633.3 1660.4" y="620.17" text-anchor="middle" font-size="27.0" font-weight="700" font-family='"Liberation Sans","Noto Sans CJK JP",sans-serif' fill="#ED1C24">現在第２　４<tspan font-size="30.5">H</tspan>サイクル　の中の動きとなっています。</text>
<text transform="scale(1 0.940)" x="1016.1 1043.2 1070.3 1094.8 1124.5 1151.6 1178.7 1205.8 1232.9 1260.0 1287.1 1314.2 1341.3 1368.4 1395.5 1422.6 1449.7 1476.8 1503.9 1531.0" y="676.76" text-anchor="middle" font-size="27.0" font-weight="700" font-family='"Liberation Sans","Noto Sans CJK JP",sans-serif' fill="#ED1C24">１５７．２８が天井になるのか、注目です。</text>
</g>
</svg>
</body></html>
